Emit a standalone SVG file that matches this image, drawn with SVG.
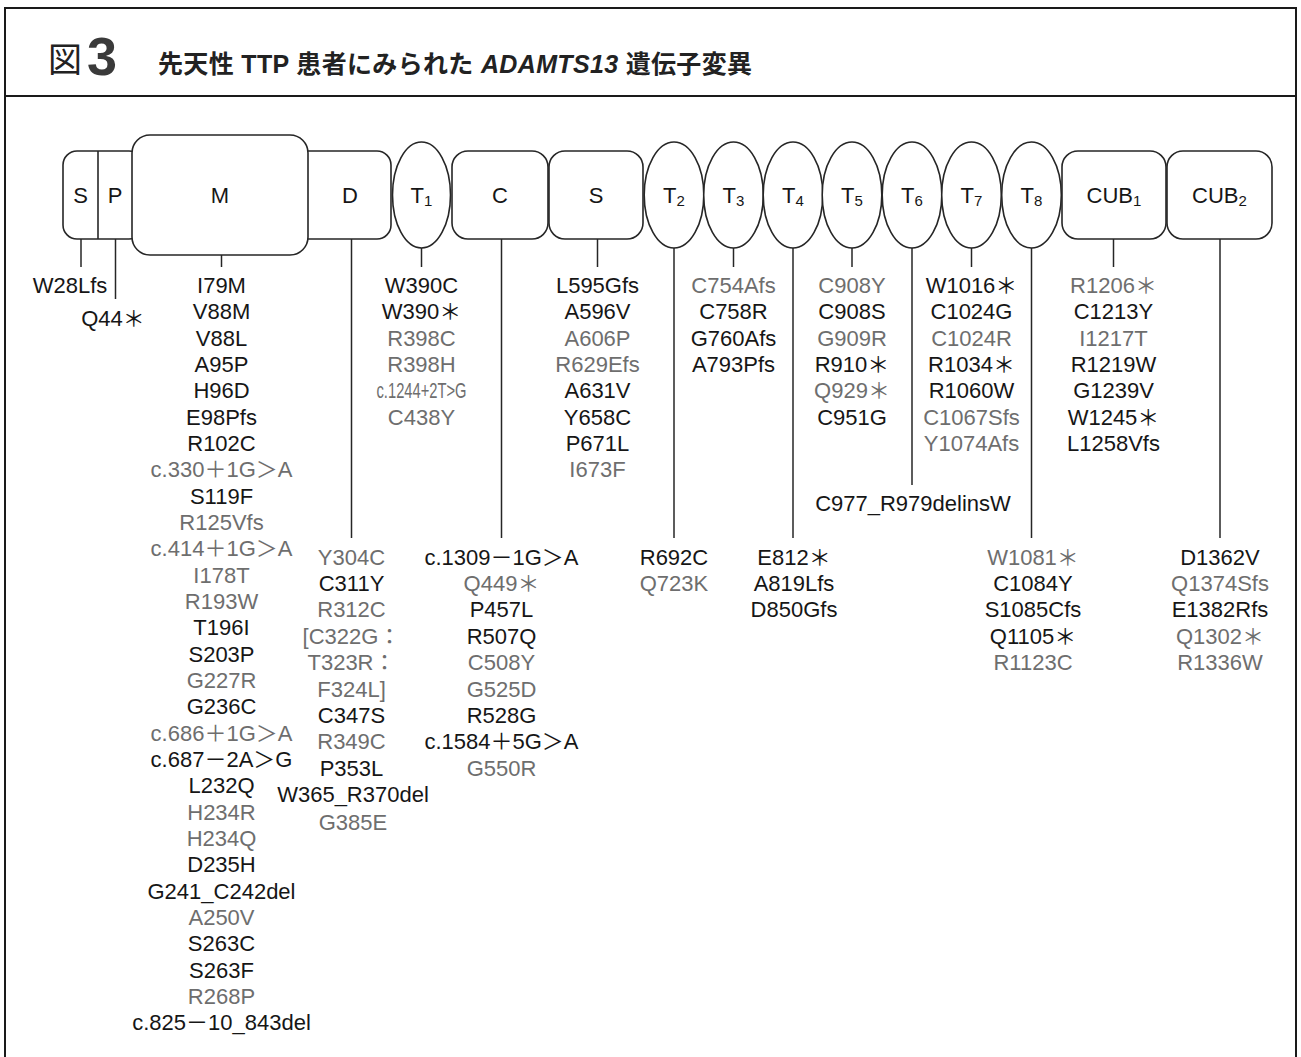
<svg xmlns="http://www.w3.org/2000/svg" width="1301" height="1057" viewBox="0 0 1301 1057">
<style>
text{font-family:"Liberation Sans","Noto Sans CJK JP",sans-serif;font-size:22px;text-anchor:middle}
.k{fill:#161616}
.g{fill:#6e6e6e}
.lb{fill:#161616}
.sub{font-size:15px}
.sh{fill:#fff;stroke:#262626;stroke-width:1.6}
.cn line{stroke:#262626;stroke-width:1.5}
.fr{fill:none;stroke:#1a1a1a;stroke-width:2}
</style>
<rect width="1301" height="1057" fill="#fff"/>
<g id="frame">
<path class="fr" d="M5,1060 V8 H1296 V1060"/>
<line class="fr" x1="5" y1="96" x2="1296" y2="96"/>
</g>
<g id="title">
<text x="48" y="72" style="font-family:'Noto Sans CJK JP',sans-serif;font-size:34px;text-anchor:start;fill:#222">図</text>
<text x="87" y="75" style="font-size:54px;font-weight:bold;text-anchor:start;fill:#3a3a3a">3</text>
<text x="158" y="73" textLength="594" lengthAdjust="spacing" style="font-size:25px;font-weight:bold;text-anchor:start;fill:#222">先天性 TTP 患者にみられた <tspan font-style="italic">ADAMTS13</tspan> 遺伝子変異</text>
</g>
<g id="node-SP">
<rect class="sh" x="63" y="151" width="80" height="88" rx="14"/>
<line x1="98" y1="151" x2="98" y2="239" stroke="#262626" stroke-width="1.6"/>
<text class="lb" x="80.5" y="203">S</text>
<text class="lb" x="115" y="203">P</text>
</g>
<g id="node-D">
<rect class="sh" x="290" y="151" width="101" height="88" rx="14"/>
<text class="lb" x="350" y="203">D</text>
</g>
<g id="node-M">
<rect class="sh" x="132" y="135" width="176" height="120" rx="18"/>
<text class="lb" x="220" y="203">M</text>
</g>
<g id="node-T1">
<ellipse class="sh" cx="421.5" cy="195" rx="29" ry="53"/>
<text class="lb" x="421.5" y="203">T<tspan class="sub" dy="3">1</tspan></text>
</g>
<g id="node-C">
<rect class="sh" x="452" y="151" width="96" height="88" rx="16"/>
<text class="lb" x="500" y="203">C</text>
</g>
<g id="node-S2">
<rect class="sh" x="549" y="151" width="94" height="88" rx="16"/>
<text class="lb" x="596" y="203">S</text>
</g>
<g id="node-T2"><ellipse class="sh" cx="674" cy="195" rx="29.8" ry="53"/><text class="lb" x="674" y="203">T<tspan class="sub" dy="3">2</tspan></text></g>
<g id="node-T3"><ellipse class="sh" cx="733.5" cy="195" rx="29.8" ry="53"/><text class="lb" x="733.5" y="203">T<tspan class="sub" dy="3">3</tspan></text></g>
<g id="node-T4"><ellipse class="sh" cx="793" cy="195" rx="29.8" ry="53"/><text class="lb" x="793" y="203">T<tspan class="sub" dy="3">4</tspan></text></g>
<g id="node-T5"><ellipse class="sh" cx="852" cy="195" rx="29.8" ry="53"/><text class="lb" x="852" y="203">T<tspan class="sub" dy="3">5</tspan></text></g>
<g id="node-T6"><ellipse class="sh" cx="912" cy="195" rx="29.8" ry="53"/><text class="lb" x="912" y="203">T<tspan class="sub" dy="3">6</tspan></text></g>
<g id="node-T7"><ellipse class="sh" cx="971.5" cy="195" rx="29.8" ry="53"/><text class="lb" x="971.5" y="203">T<tspan class="sub" dy="3">7</tspan></text></g>
<g id="node-T8"><ellipse class="sh" cx="1031.5" cy="195" rx="29.8" ry="53"/><text class="lb" x="1031.5" y="203">T<tspan class="sub" dy="3">8</tspan></text></g>
<g id="node-CUB1">
<rect class="sh" x="1062" y="151" width="104" height="88" rx="16"/>
<text class="lb" x="1114" y="203">CUB<tspan class="sub" dy="3">1</tspan></text>
</g>
<g id="node-CUB2">
<rect class="sh" x="1167" y="151" width="105" height="88" rx="16"/>
<text class="lb" x="1219.5" y="203">CUB<tspan class="sub" dy="3">2</tspan></text>
</g>
<g id="connectors" class="cn">
<line x1="81" y1="239" x2="81" y2="267"/>
<line x1="115.5" y1="239" x2="115.5" y2="299"/>
<line x1="221.5" y1="255" x2="221.5" y2="267"/>
<line x1="351.5" y1="239" x2="351.5" y2="538"/>
<line x1="421.5" y1="248" x2="421.5" y2="267"/>
<line x1="501.5" y1="239" x2="501.5" y2="538"/>
<line x1="597.5" y1="239" x2="597.5" y2="267"/>
<line x1="674" y1="248" x2="674" y2="538"/>
<line x1="733.5" y1="248" x2="733.5" y2="267"/>
<line x1="793" y1="248" x2="793" y2="538"/>
<line x1="852" y1="248" x2="852" y2="267"/>
<line x1="912" y1="248" x2="912" y2="485"/>
<line x1="971.5" y1="248" x2="971.5" y2="267"/>
<line x1="1031.5" y1="248" x2="1031.5" y2="538"/>
<line x1="1113.5" y1="239" x2="1113.5" y2="267"/>
<line x1="1220" y1="239" x2="1220" y2="538"/>
</g>
<g id="labels-S-P">
<text class="k" x="70" y="293">W28Lfs</text>
<text class="k" x="113" y="326">Q44＊</text>
</g>
<g id="labels-M">
<text class="k" x="221.5" y="293">I79M</text>
<text class="k" x="221.5" y="319.3">V88M</text>
<text class="k" x="221.5" y="345.7">V88L</text>
<text class="k" x="221.5" y="372">A95P</text>
<text class="k" x="221.5" y="398.3">H96D</text>
<text class="k" x="221.5" y="424.7">E98Pfs</text>
<text class="k" x="221.5" y="451">R102C</text>
<text class="g" x="221.5" y="477.3">c.330＋1G＞A</text>
<text class="k" x="221.5" y="503.6">S119F</text>
<text class="g" x="221.5" y="530">R125Vfs</text>
<text class="g" x="221.5" y="556.3">c.414＋1G＞A</text>
<text class="g" x="221.5" y="582.6">I178T</text>
<text class="g" x="221.5" y="609">R193W</text>
<text class="k" x="221.5" y="635.3">T196I</text>
<text class="k" x="221.5" y="661.6">S203P</text>
<text class="g" x="221.5" y="688">G227R</text>
<text class="k" x="221.5" y="714.3">G236C</text>
<text class="g" x="221.5" y="740.6">c.686＋1G＞A</text>
<text class="k" x="221.5" y="767">c.687－2A＞G</text>
<text class="k" x="221.5" y="793.3">L232Q</text>
<text class="g" x="221.5" y="819.6">H234R</text>
<text class="g" x="221.5" y="846">H234Q</text>
<text class="k" x="221.5" y="872.3">D235H</text>
<text class="k" x="221.5" y="898.6">G241_C242del</text>
<text class="g" x="221.5" y="925">A250V</text>
<text class="k" x="221.5" y="951.3">S263C</text>
<text class="k" x="221.5" y="977.6">S263F</text>
<text class="g" x="221.5" y="1004">R268P</text>
<text class="k" x="221.5" y="1030.3">c.825－10_843del</text>
</g>
<g id="labels-D">
<text class="g" x="351.5" y="564.6">Y304C</text>
<text class="k" x="351.5" y="591">C311Y</text>
<text class="g" x="351.5" y="617.4">R312C</text>
<text class="g" x="351.5" y="643.8">[C322G：</text>
<text class="g" x="351.5" y="670.2">T323R：</text>
<text class="g" x="351.5" y="696.6">F324L]</text>
<text class="k" x="351.5" y="723">C347S</text>
<text class="g" x="351.5" y="749.4">R349C</text>
<text class="k" x="351.5" y="775.8">P353L</text>
<text class="k" x="353" y="802.2">W365_R370del</text>
<text class="g" x="353" y="830">G385E</text>
</g>
<g id="labels-T1">
<text class="k" x="421.5" y="293">W390C</text>
<text class="k" x="421.5" y="319.3">W390＊</text>
<text class="g" x="421.5" y="345.7">R398C</text>
<text class="g" x="421.5" y="372">R398H</text>
<text class="g" x="421.5" y="398.3" textLength="90" lengthAdjust="spacingAndGlyphs">c.1244+2T&gt;G</text>
<text class="g" x="421.5" y="424.7">C438Y</text>
</g>
<g id="labels-C">
<text class="k" x="501.5" y="564.6">c.1309－1G＞A</text>
<text class="g" x="501.5" y="591">Q449＊</text>
<text class="k" x="501.5" y="617.4">P457L</text>
<text class="k" x="501.5" y="643.8">R507Q</text>
<text class="g" x="501.5" y="670.2">C508Y</text>
<text class="g" x="501.5" y="696.6">G525D</text>
<text class="k" x="501.5" y="723">R528G</text>
<text class="k" x="501.5" y="749.4">c.1584＋5G＞A</text>
<text class="g" x="501.5" y="775.8">G550R</text>
</g>
<g id="labels-S2">
<text class="k" x="597.5" y="293">L595Gfs</text>
<text class="k" x="597.5" y="319.3">A596V</text>
<text class="g" x="597.5" y="345.7">A606P</text>
<text class="g" x="597.5" y="372">R629Efs</text>
<text class="k" x="597.5" y="398.3">A631V</text>
<text class="k" x="597.5" y="424.7">Y658C</text>
<text class="k" x="597.5" y="451">P671L</text>
<text class="g" x="597.5" y="477.3">I673F</text>
</g>
<g id="labels-T2">
<text class="k" x="674" y="564.6">R692C</text>
<text class="g" x="674" y="591">Q723K</text>
</g>
<g id="labels-T3">
<text class="g" x="733.5" y="293">C754Afs</text>
<text class="k" x="733.5" y="319.3">C758R</text>
<text class="k" x="733.5" y="345.7">G760Afs</text>
<text class="k" x="733.5" y="372">A793Pfs</text>
</g>
<g id="labels-T4">
<text class="k" x="794" y="564.6">E812＊</text>
<text class="k" x="794" y="591">A819Lfs</text>
<text class="k" x="794" y="617.4">D850Gfs</text>
</g>
<g id="labels-T5">
<text class="g" x="852" y="293">C908Y</text>
<text class="k" x="852" y="319.3">C908S</text>
<text class="g" x="852" y="345.7">G909R</text>
<text class="k" x="852" y="372">R910＊</text>
<text class="g" x="852" y="398.3">Q929＊</text>
<text class="k" x="852" y="424.7">C951G</text>
</g>
<g id="labels-T6">
<text class="k" x="913" y="511">C977_R979delinsW</text>
</g>
<g id="labels-T7">
<text class="k" x="971.5" y="293">W1016＊</text>
<text class="k" x="971.5" y="319.3">C1024G</text>
<text class="g" x="971.5" y="345.7">C1024R</text>
<text class="k" x="971.5" y="372">R1034＊</text>
<text class="k" x="971.5" y="398.3">R1060W</text>
<text class="g" x="971.5" y="424.7">C1067Sfs</text>
<text class="g" x="971.5" y="451">Y1074Afs</text>
</g>
<g id="labels-T8">
<text class="g" x="1033" y="564.6">W1081＊</text>
<text class="k" x="1033" y="591">C1084Y</text>
<text class="k" x="1033" y="617.4">S1085Cfs</text>
<text class="k" x="1033" y="643.8">Q1105＊</text>
<text class="g" x="1033" y="670.2">R1123C</text>
</g>
<g id="labels-CUB1">
<text class="g" x="1113.5" y="293">R1206＊</text>
<text class="k" x="1113.5" y="319.3">C1213Y</text>
<text class="g" x="1113.5" y="345.7">I1217T</text>
<text class="k" x="1113.5" y="372">R1219W</text>
<text class="k" x="1113.5" y="398.3">G1239V</text>
<text class="k" x="1113.5" y="424.7">W1245＊</text>
<text class="k" x="1113.5" y="451">L1258Vfs</text>
</g>
<g id="labels-CUB2">
<text class="k" x="1220" y="564.6">D1362V</text>
<text class="g" x="1220" y="591">Q1374Sfs</text>
<text class="k" x="1220" y="617.4">E1382Rfs</text>
<text class="g" x="1220" y="643.8">Q1302＊</text>
<text class="g" x="1220" y="670.2">R1336W</text>
</g>
</svg>
